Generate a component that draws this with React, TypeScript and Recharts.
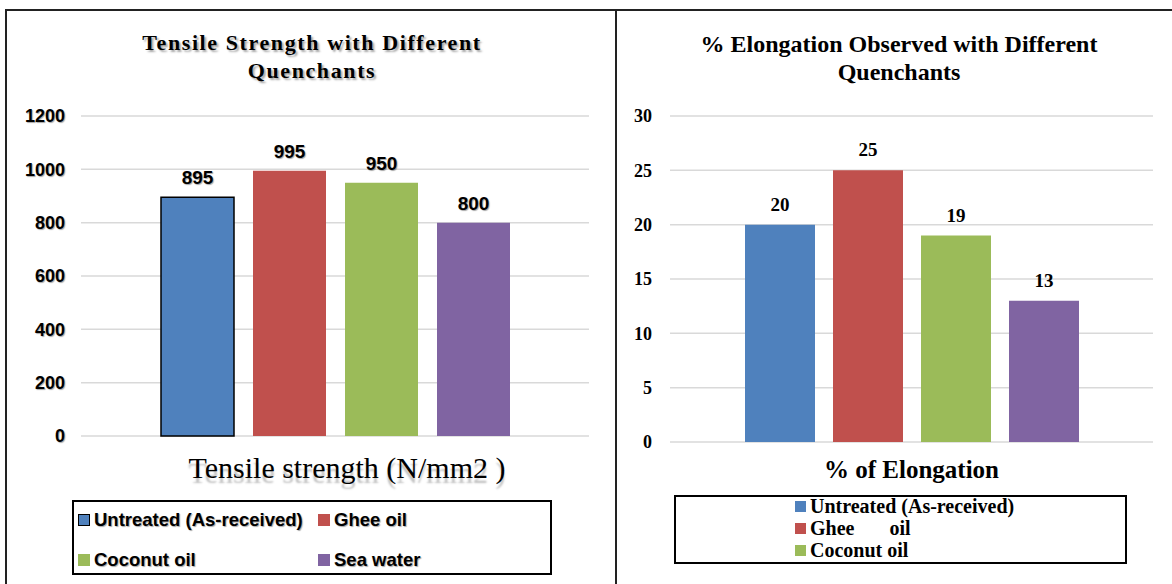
import React from 'react';
import { BarChart, Bar, XAxis, YAxis, CartesianGrid, LabelList } from 'recharts';

const categories = ['Untreated (As-received)', 'Ghee oil', 'Coconut oil', 'Sea water'];
const colors = ['#4F81BD', '#C0504D', '#9BBB59', '#8064A2'];
const tensileValues = [895, 995, 950, 800];
const elongationValues = [20, 25, 19, 13];
const tensileTicks = [0, 200, 400, 600, 800, 1000, 1200];
const elongationTicks = [0, 5, 10, 15, 20, 25, 30];
const tensileGroup = 'Tensile strength (N/mm2 )';
const elongationGroup = '% of Elongation';
const tensileTitle = ['Tensile Strength with Different', 'Quenchants'];
const elongationTitle = ['% Elongation Observed with Different', 'Quenchants'];
const elongationLegendLabels = ['Untreated (As-received)', 'Ghee       oil', 'Coconut oil'];

const seriesKeys = categories.map((_, i) => 's' + i);
const buildRow = (name: string, values: number[]) => {
  const row: Record<string, any> = { name };
  seriesKeys.forEach((k, i) => (row[k] = values[i]));
  return [row];
};
const tensileData = buildRow(tensileGroup, tensileValues);
const elongationData = buildRow(elongationGroup, elongationValues);

const SANS = '"Liberation Sans", Arial, sans-serif';
const SERIF = '"Liberation Serif", "Times New Roman", serif';
const SHADOW = '1px 1px 1px rgba(0,0,0,0.35)';

const LeftTick = (props: any) => {
  const { x, y, payload } = props;
  return (
    <text x={x + 12} y={y + 34} textAnchor="middle" fontFamily={SERIF} fontSize={30} fill="#000"
      style={{ textShadow: '0px 5px 2px rgba(0,0,0,0.25)' }}>
      {payload.value}
    </text>
  );
};

const RightTick = (props: any) => {
  const { x, y, payload } = props;
  return (
    <text x={x} y={y + 28} textAnchor="middle" fontFamily={SERIF} fontWeight="bold" fontSize={25} fill="#000">
      {payload.value}
    </text>
  );
};

export default function App() {
  return (
    <div style={{ position: 'absolute', left: 0, top: 0, width: 1172, height: 584, background: '#fff', overflow: 'hidden' }}>
      {/* panel borders */}
      <div style={{ position: 'absolute', left: 5, top: 9, width: 1167, height: 2, background: '#222' }} />
      <div style={{ position: 'absolute', left: 5, top: 9, width: 2, height: 575, background: '#222' }} />
      <div style={{ position: 'absolute', left: 615, top: 9, width: 2, height: 575, background: '#222' }} />

      {/* Left chart */}
      <div style={{ position: 'absolute', left: 0, top: 0 }}>
        <BarChart width={610} height={584} data={tensileData} margin={{ top: 116, right: 21, bottom: 108, left: 21 }} barGap={19}>
          <CartesianGrid vertical={false} stroke="#d9d9d9" strokeWidth={1.5} />
          <XAxis dataKey="name" height={40} axisLine={false} tickLine={false} tick={<LeftTick />} />
          <YAxis width={60} domain={[0, 1200]} ticks={tensileTicks} axisLine={false} tickLine={false} tickMargin={10}
            tick={{ fontFamily: SANS, fontWeight: 'bold', fontSize: 18, fill: '#000', style: { textShadow: SHADOW } }} />
          {seriesKeys.map((k, i) => (
            <Bar key={k} dataKey={k} name={categories[i]} fill={colors[i]} barSize={73} isAnimationActive={false}
              stroke={i === 0 ? '#000' : 'none'} strokeWidth={i === 0 ? 1.5 : 0}>
              <LabelList dataKey={k} position="top" offset={13} fill="#000" fontFamily={SANS} fontWeight="bold" fontSize={19}
                style={{ textShadow: SHADOW }} />
            </Bar>
          ))}
        </BarChart>
      </div>

      {/* Right chart */}
      <div style={{ position: 'absolute', left: 610, top: 0 }}>
        <BarChart width={562} height={584} data={elongationData} margin={{ top: 116, right: 19, bottom: 102, left: 0 }} barGap={18}>
          <CartesianGrid vertical={false} stroke="#d9d9d9" strokeWidth={1.5} />
          <XAxis dataKey="name" height={40} axisLine={false} tickLine={false} tick={<RightTick />} />
          <YAxis width={60} domain={[0, 30]} ticks={elongationTicks} axisLine={false} tickLine={false} tickMargin={12}
            tick={{ fontFamily: SERIF, fontWeight: 'bold', fontSize: 18, fill: '#000' }} />
          {seriesKeys.map((k, i) => (
            <Bar key={k} dataKey={k} name={categories[i]} fill={colors[i]} barSize={70} isAnimationActive={false}>
              <LabelList dataKey={k} position="top" offset={14} fill="#000" fontFamily={SERIF} fontWeight="bold" fontSize={19} />
            </Bar>
          ))}
        </BarChart>
      </div>

      {/* Titles */}
      <div style={{ position: 'absolute', left: 62, top: 29, width: 500, textAlign: 'center', fontFamily: SERIF, fontWeight: 'bold', fontSize: 22, letterSpacing: 1.6, lineHeight: '28px', color: '#000', textShadow: '2px 2px 2px rgba(0,0,0,0.35)' }}>
        {tensileTitle.map((t) => (<div key={t}>{t}</div>))}
      </div>
      <div style={{ position: 'absolute', left: 599, top: 30, width: 600, textAlign: 'center', fontFamily: SERIF, fontWeight: 'bold', fontSize: 24, lineHeight: '28px', color: '#000' }}>
        {elongationTitle.map((t) => (<div key={t}>{t}</div>))}
      </div>

      {/* Left legend */}
      <div style={{ position: 'absolute', left: 72, top: 500, width: 480, height: 75, border: '2px solid #000', boxSizing: 'border-box' }}>
        {categories.map((c, i) => {
          const col = i % 2;
          const row = Math.floor(i / 2);
          return (
            <div key={c} style={{ position: 'absolute', left: col ? 244 : 4, top: row ? 46 : 6, height: 24, display: 'flex', alignItems: 'center', whiteSpace: 'nowrap' }}>
              <div style={{ width: i === 0 ? 10 : 12, height: i === 0 ? 10 : 12, background: colors[i], border: i === 0 ? '1.5px solid #000' : 'none', marginRight: 4 }} />
              <span style={{ fontFamily: SANS, fontWeight: 'bold', fontSize: 18.5, color: '#000', textShadow: SHADOW }}>{c}</span>
            </div>
          );
        })}
      </div>

      {/* Right legend */}
      <div style={{ position: 'absolute', left: 674, top: 495, width: 453, height: 69, border: '2px solid #000', boxSizing: 'border-box' }}>
        {elongationLegendLabels.map((c, i) => (
          <div key={c} style={{ position: 'absolute', left: 119, top: -2 + i * 22, height: 22, display: 'flex', alignItems: 'center', whiteSpace: 'pre' }}>
            <div style={{ width: 11, height: 11, background: colors[i], marginRight: 4 }} />
            <span style={{ fontFamily: SERIF, fontWeight: 'bold', fontSize: 20, color: '#000' }}>{c}</span>
          </div>
        ))}
      </div>
    </div>
  );
}
